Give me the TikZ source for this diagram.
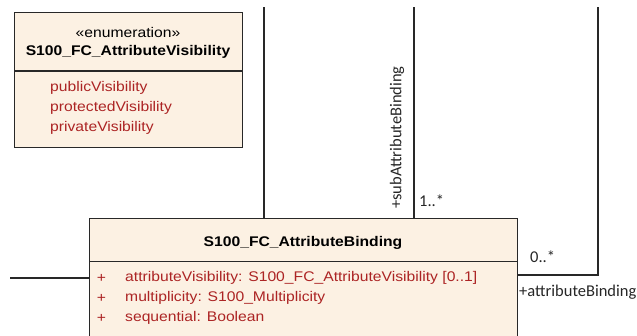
\documentclass[tikz,border=0pt]{standalone}
\usepackage{fontspec}
\setmainfont[FakeStretch=1.12]{Liberation Sans}
\newfontfamily\roleFont{Carlito}
\usetikzlibrary{positioning}
\definecolor{classFill}{RGB}{252,241,227}
\definecolor{attrRed}{RGB}{172,36,36}
\definecolor{umlLine}{RGB}{40,40,40}
\tikzset{
     classBox/.style =
        { draw=umlLine
        , line width=1.3pt
        , fill=classFill
        , anchor=north west
        , inner sep=0pt
        }
   , className/.style =
        { font=\fontsize{14}{16}\selectfont\bfseries
        , inner sep=0pt
        }
   , stereoText/.style = {font=\fontsize{14}{16}\selectfont, inner sep=0pt}
   , attrText/.style =
        { text=attrRed
        , font=\fontsize{14}{16}\selectfont
        , inner sep=0pt
        , anchor=west
        }
   , roleText/.style =
        { text=black!85
        , font=\roleFont\fontsize{16.5}{18}\selectfont
        , inner sep=0pt
        }
   , assocLine/.style = {draw=umlLine, line width=1.3pt}
}
\begin{document}
\begin{tikzpicture}
   [ x=1pt
   , y=-1pt
   , node distance=20pt
   ]
   \useasboundingbox (0,0) rectangle (637,335);
   \clip (0,0) rectangle (637,335);

   % enumeration
   \node[classBox, minimum width=228pt, minimum height=135pt] (enum) at (14,12) {};
   \coordinate (enumSep) at (0,71);
   \draw[assocLine] (enum.west |- enumSep) -- (enum.east |- enumSep);
   \node[stereoText] (enumStereo) at (128,32) {«enumeration»};
   \node[className] (enumName) [below of=enumStereo] {S100\_FC\_AttributeVisibility};
   \node[attrText] (litPublic) at (50,88) {publicVisibility};
   \node[attrText] (litProtected) at (50,108) {protectedVisibility};
   \node[attrText] (litPrivate) at (50,128) {privateVisibility};

   % attribute binding
   \node[classBox, minimum width=428pt, minimum height=140pt] (binding) at (89,218) {};
   \coordinate (bindSep) at (0,261.5);
   \draw[assocLine] (binding.west |- bindSep) -- (binding.east |- bindSep);
   \node[className] (bindName) at (303,243) {S100\_FC\_AttributeBinding};
   \node[attrText, anchor=center] (plusVis) at (101.5,278) {+};
   \node[attrText, anchor=center] (plusMult) at (101.5,298) {+};
   \node[attrText, anchor=center] (plusSeq) at (101.5,318) {+};
   \node[attrText] (attrVis) at (125,278) {attributeVisibility: S100\_FC\_AttributeVisibility [0..1]};
   \node[attrText] (attrMult) at (125,298) {multiplicity: S100\_Multiplicity};
   \node[attrText] (attrSeq) at (125,318) {sequential: Boolean};

   % connectors
   \coordinate (leftEnd) at (10,278);
   \coordinate (topA) at (264,7);
   \coordinate (topB) at (414,7);
   \coordinate (selfCorner) at (598,275);
   \coordinate (selfTop) at (598,7);
   \draw[assocLine] (leftEnd) -- (leftEnd -| binding.west);
   \draw[assocLine] (topA) -- (topA |- binding.north);
   \draw[assocLine] (topB) -- (topB |- binding.north);
   \draw[assocLine] (binding.east |- selfCorner) -- (selfCorner) -- (selfTop);

   % role labels
   \node[roleText, rotate=90] (subRole) at (397,137.5) {+subAttributeBinding};
   \node[roleText, anchor=west] (subMult) at (419,201) {1..*};
   \node[roleText, anchor=west] (selfMult) at (530,257) {0..*};
   \node[roleText, anchor=west] (selfRole) at (519,292.5) {+attributeBinding};
\end{tikzpicture}
\end{document}
